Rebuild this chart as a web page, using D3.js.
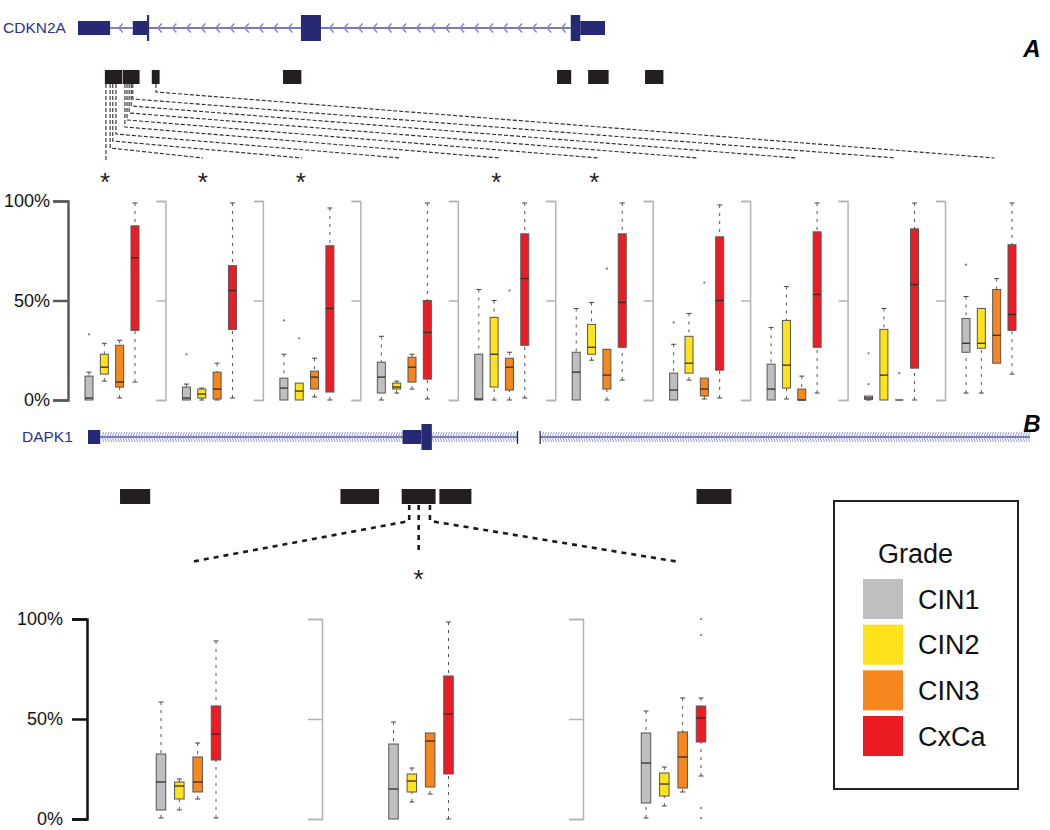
<!DOCTYPE html>
<html>
<head>
<meta charset="utf-8">
<script src="https://cdn.jsdelivr.net/npm/d3@7"></script>
<style>
  body { margin: 0; background: #fff; }
  svg { display: block; font-family: "Liberation Sans", Arial, sans-serif; }
  .whisker { stroke: #555; stroke-width: 1; stroke-dasharray: 3,5; }
  .cap { stroke: #444; stroke-width: 1; }
</style>
</head>
<body>
<div id="chart"></div>
<script>
// ---- data ----
var grades = ['CIN1', 'CIN2', 'CIN3', 'CxCa'];
var gradeColors = ['#bfbfbf', '#fde21c', '#f6871f', '#ec1c24'];
var yTicks = [0, 50, 100];

// methylation (%) per CpG site, five numbers: [min, q1, median, q3, max]
// CDKN2A, 10 CpG sites
var cdkn2aCIN1 = [[0,0,1,12,14],[0,0,1,6.5,8],[0,0,6,11,23],[0,3.5,11.5,19,32],[0,0,0.5,23,55.5],
                  [0,0,14,24,46],[0,0,5,13.5,28],[0,0,5.5,18,36.5],[0,0.3,1,2,2],[3.5,24,28.5,41,52]];
var cdkn2aCIN2 = [[9.5,13,16.5,23,28.5],[0,1,3,5.5,6],[0,0,4.5,8.5,8.5],[3.5,5.5,6.5,8.5,9.5],[0,6.5,23,41.5,50],
                  [20,23,26.5,38,49],[10,13.5,18.5,32,43.5],[0.5,6,17.5,40,57],[0,0,12.5,35.5,46],[3.5,26,28.5,46,46]];
var cdkn2aCIN3 = [[1,6.5,9,27.5,30],[0,0.5,5.5,14,18.5],[1.5,5.5,11.5,14.5,21],[5.5,9,16.5,21.5,23],[0,5,16.5,21,24],
                  [0,5.5,12.5,25.5,25.5],[0.5,2,5.5,11,11],[0,0,0,5.5,12],[0,0,0,0,0],[18.5,18.5,32.5,55.5,61]];
var cdkn2aCxCa = [[9,35,71.5,87.5,99],[1,35.5,55,67.5,99],[0,4,46,77.5,96.5],[0.5,10.5,34,50,99],[1,27.5,61,83.5,99],
                  [10,26.5,49,83.5,99],[1,15,50,82,98],[3.5,26.5,53,84.5,99],[0,16,58,86,99],[13,35,43,78,99]];
// outliers: [site, grade index, value]
var cdkn2aOutliers = [[0,0,33],[1,0,23],[2,0,40],[2,1,31],[4,2,55],[5,2,66],[6,0,39],[6,2,59],
                      [8,0,8],[8,0,23.5],[8,2,13.5],[9,0,68]];
var cdkn2aSig = [1,1,1,0,1,1,0,0,0,0];

// DAPK1, 3 CpG sites
var dapk1CIN1 = [[0.5,4.5,18.5,32.5,58.5],[0,0,15,37.5,48.5],[0.5,8,28,43,54]];
var dapk1CIN2 = [[4.5,10,16.5,18.5,20],[8.5,13.5,19,22.5,25.5],[6.5,11.5,17.5,23,26]];
var dapk1CIN3 = [[10,13.5,18.5,31,38],[12.5,16,39,43,43],[13.5,15.5,31,43.5,60.5]];
var dapk1CxCa = [[0.5,29.5,42.5,56.5,89],[0,22.5,52.5,71.5,98.5],[21.5,38.5,50.5,56.5,60.5]];
var dapk1Outliers = [[2,3,100],[2,3,92],[2,3,5.5],[2,3,0.5]];
var dapk1Sig = [0,1,0];

// gene models, relative track units (0-1000)
var cdkn2aExons = [[0,61,0],[104,131,0],[131,135,1],[423,461,1],[935,953,1],[953,1000,0]]; // [start, end, tall]
var cdkn2aIntrons = [[61,104],[135,423],[461,935]];
var cdkn2aIslands = [[51,85],[85,118],[140,156],[389,425],[909,937],[968,1008],[1076,1112]];
var cdkn2aSites = [53,61,66,72,89,93,97,101,104,148];

var dapk1Exons = [[0,13,0],[334,354,0],[354,365,1]];
var dapk1Introns = [[13,456],[480,1000]];
var dapk1Islands = [[34,66],[268,309],[333,369],[373,407],[646,683]];
var dapk1Sites = [341,351,363];

// ---- layout ----
var width = 1050, height = 830;
var svg = d3.select('#chart').append('svg').attr('width', width).attr('height', height);

var geneColor = '#262a75', lineColor = '#4c4f9e', chevColor = '#8286c8';

function drawGene(g, xs, exons, introns, yMid, step, chevW, chevH, chevStroke) {
    introns.forEach(function(d) {
        g.append('line').attr('x1', xs(d[0])).attr('x2', xs(d[1]))
            .attr('y1', yMid).attr('y2', yMid)
            .attr('stroke', lineColor).attr('stroke-width', 1.4);
        var xs0 = xs(d[0]) + step * 0.6, xs1 = xs(d[1]) - step * 0.4;
        var chev = d3.range(xs0, xs1, step);
        g.selectAll(null).data(chev).enter().append('path')
            .attr('d', function(x) {
                return 'M' + (x + chevW) + ',' + (yMid - chevH) + 'L' + x + ',' + yMid + 'L' + (x + chevW) + ',' + (yMid + chevH);
            })
            .attr('fill', 'none').attr('stroke', chevColor).attr('stroke-width', chevStroke);
    });
    g.selectAll(null).data(exons).enter().append('rect')
        .attr('x', function(d) { return xs(d[0]); })
        .attr('width', function(d) { return xs(d[1]) - xs(d[0]); })
        .attr('y', function(d) { return d[2] ? yMid - 13 : yMid - 7; })
        .attr('height', function(d) { return d[2] ? 26 : 14; })
        .attr('fill', geneColor);
}

function drawBox(g, d, x, w, y, color) {
    if (d[4] > d[3]) {
        g.append('line').attr('class', 'whisker').attr('x1', x).attr('x2', x).attr('y1', y(d[4])).attr('y2', y(d[3]));
        g.append('line').attr('class', 'cap').attr('x1', x - 2.5).attr('x2', x + 2.5).attr('y1', y(d[4])).attr('y2', y(d[4]));
    }
    if (d[0] < d[1]) {
        g.append('line').attr('class', 'whisker').attr('x1', x).attr('x2', x).attr('y1', y(d[0])).attr('y2', y(d[1]));
        g.append('line').attr('class', 'cap').attr('x1', x - 2.5).attr('x2', x + 2.5).attr('y1', y(d[0])).attr('y2', y(d[0]));
    }
    g.append('rect').attr('x', x - w / 2).attr('width', w)
        .attr('y', y(d[3])).attr('height', y(d[1]) - y(d[3]))
        .attr('fill', color).attr('stroke', '#555').attr('stroke-width', 1);
    g.append('line').attr('x1', x - w / 2).attr('x2', x + w / 2)
        .attr('y1', y(d[2])).attr('y2', y(d[2]))
        .attr('stroke', '#3a2a22').attr('stroke-width', 1.3);
}

function styleAxis(a, main, color) {
    a.selectAll('path, line').attr('stroke', color).attr('stroke-width', main ? 2.5 : 1.5);
    a.selectAll('text').attr('font-size', 18).attr('fill', '#111')
        .attr('font-family', '"Liberation Sans", Arial, sans-serif');
}

// ================= Panel A: CDKN2A =================
var xGeneA = d3.scaleLinear().domain([0, 1000]).range([78, 605]);
var gA = svg.append('g');
gA.append('text').attr('x', 3).attr('y', 33).attr('font-size', 15.5).attr('fill', '#2e3192').text('CDKN2A');
drawGene(gA, xGeneA, cdkn2aExons, cdkn2aIntrons, 28, 14.5, 4, 4.5, 1.4);

gA.selectAll(null).data(cdkn2aIslands).enter().append('rect')
    .attr('x', function(d) { return xGeneA(d[0]); })
    .attr('width', function(d) { return xGeneA(d[1]) - xGeneA(d[0]) - 0.6; })
    .attr('y', 70).attr('height', 14).attr('fill', '#231f20');

var yA = d3.scaleLinear().domain([0, 100]).range([400, 201]);
var panelA = d3.scaleLinear().domain([0, 9]).range([68, 945]);
var gradeA = d3.scalePoint().domain(grades).range([21, 67]);

// connectors from CpG sites to panels
cdkn2aSites.forEach(function(s, i) {
    var sx = xGeneA(s), ex = panelA(i) + 36 + i * 1.5, p;
    if (i === 0) p = 'M' + sx + ',84V161';
    else p = 'M' + sx + ',84V' + (148 - (i - 1) * 7) + 'L' + ex + ',158';
    gA.append('path').attr('d', p).attr('fill', 'none')
        .attr('stroke', '#2a2a2a').attr('stroke-width', 1.1).attr('stroke-dasharray', '4,2');
});
gA.selectAll(null).data(cdkn2aSig.map(function(v, i) { return [v, i]; }).filter(function(d) { return d[0]; }))
    .enter().append('text')
    .attr('x', function(d) { return panelA(d[1]) + 37 + d[1] * 0.4; }).attr('y', 191)
    .attr('text-anchor', 'middle').attr('font-size', 26).attr('fill', '#222').text('*');

var cdkn2aByGrade = [cdkn2aCIN1, cdkn2aCIN2, cdkn2aCIN3, cdkn2aCxCa];
d3.range(10).forEach(function(i) {
    var p = gA.append('g');
    var axis = d3.axisLeft(yA).tickValues(yTicks).tickSizeOuter(0);
    if (i === 0) axis.tickSize(15).tickPadding(3).tickFormat(function(d) { return d + '%'; });
    else axis.tickSize(9).tickFormat('');
    var a = p.append('g').attr('transform', 'translate(' + panelA(i) + ',0)').call(axis);
    styleAxis(a, i === 0, i === 0 ? '#5b5b5b' : '#b3b3b3');
    grades.forEach(function(gr, k) {
        drawBox(p, cdkn2aByGrade[k][i], panelA(i) + gradeA(gr), 8, yA, gradeColors[k]);
    });
});
gA.selectAll(null).data(cdkn2aOutliers).enter().append('circle')
    .attr('cx', function(d) { return panelA(d[0]) + gradeA(grades[d[1]]); })
    .attr('cy', function(d) { return yA(d[2]); })
    .attr('r', 1.1).attr('fill', '#777');

svg.append('text').attr('x', 1032).attr('y', 57).attr('text-anchor', 'middle')
    .attr('font-size', 24).attr('font-weight', 'bold').attr('font-style', 'italic').text('A');

// ================= Panel B: DAPK1 =================
var xGeneB = d3.scaleLinear().domain([0, 1000]).range([88, 1030]);
var gB = svg.append('g');
gB.append('text').attr('x', 22).attr('y', 442).attr('font-size', 15.5).attr('fill', '#2e3192').text('DAPK1');
drawGene(gB, xGeneB, dapk1Exons, dapk1Introns, 437, 2.6, 2, 5, 0.8);
[456, 480].forEach(function(t) {
    gB.append('line').attr('x1', xGeneB(t)).attr('x2', xGeneB(t)).attr('y1', 431).attr('y2', 444)
        .attr('stroke', '#222').attr('stroke-width', 1.2);
});

gB.selectAll(null).data(dapk1Islands).enter().append('rect')
    .attr('x', function(d) { return xGeneB(d[0]); })
    .attr('width', function(d) { return xGeneB(d[1]) - xGeneB(d[0]); })
    .attr('y', 489).attr('height', 15).attr('fill', '#231f20');

var yB = d3.scaleLinear().domain([0, 100]).range([819, 619]);
var panelBAxis = [87, 322, 583];
var panelBCenter = [188.5, 421, 673.5];
var gradeB = d3.scalePoint().domain(grades).range([-27.5, 27.5]);

dapk1Sites.forEach(function(s, i) {
    var sx = xGeneB(s), p;
    if (i === 1) p = 'M' + sx + ',505V550';
    else p = 'M' + sx + ',505V521L' + (panelBCenter[i] + (i === 0 ? 2 : 6)) + ',562';
    gB.append('path').attr('d', p).attr('fill', 'none')
        .attr('stroke', '#1a1a1a').attr('stroke-width', 2.6).attr('stroke-dasharray', '5,5');
});
dapk1Sig.forEach(function(v, i) {
    if (v) gB.append('text').attr('x', xGeneB(dapk1Sites[i])).attr('y', 588)
        .attr('text-anchor', 'middle').attr('font-size', 26).attr('fill', '#222').text('*');
});

var dapk1ByGrade = [dapk1CIN1, dapk1CIN2, dapk1CIN3, dapk1CxCa];
d3.range(3).forEach(function(i) {
    var p = gB.append('g');
    var axis = d3.axisLeft(yB).tickValues(yTicks).tickSizeOuter(0);
    if (i === 0) axis.tickSize(15).tickPadding(9).tickFormat(function(d) { return d + '%'; });
    else axis.tickSize(14).tickFormat('');
    var a = p.append('g').attr('transform', 'translate(' + panelBAxis[i] + ',0)').call(axis);
    styleAxis(a, i === 0, i === 0 ? '#111' : '#b3b3b3');
    grades.forEach(function(gr, k) {
        drawBox(p, dapk1ByGrade[k][i], panelBCenter[i] + gradeB(gr), 9.5, yB, gradeColors[k]);
    });
});
gB.selectAll(null).data(dapk1Outliers).enter().append('circle')
    .attr('cx', function(d) { return panelBCenter[d[0]] + gradeB(grades[d[1]]); })
    .attr('cy', function(d) { return yB(d[2]); })
    .attr('r', 1.1).attr('fill', '#777');

svg.append('text').attr('x', 1032).attr('y', 432).attr('text-anchor', 'middle')
    .attr('font-size', 24).attr('font-weight', 'bold').attr('font-style', 'italic').text('B');

// ================= Legend =================
var leg = svg.append('g');
leg.append('rect').attr('x', 834).attr('y', 501).attr('width', 184).attr('height', 288)
    .attr('fill', '#fff').attr('stroke', '#222').attr('stroke-width', 2);
leg.append('text').attr('x', 878).attr('y', 563).attr('font-size', 27).attr('fill', '#111').text('Grade');
var legY = d3.scalePoint().domain(grades).range([579, 716]);
leg.selectAll(null).data(grades).enter().append('rect')
    .attr('x', 863).attr('y', function(d) { return legY(d); })
    .attr('width', 40).attr('height', 40)
    .attr('fill', function(d, i) { return gradeColors[i]; });
leg.selectAll(null).data(grades).enter().append('text')
    .attr('x', 918).attr('y', function(d) { return legY(d) + 29.5; })
    .attr('font-size', 27).attr('fill', '#111').text(function(d) { return d; });
</script>
</body>
</html>
